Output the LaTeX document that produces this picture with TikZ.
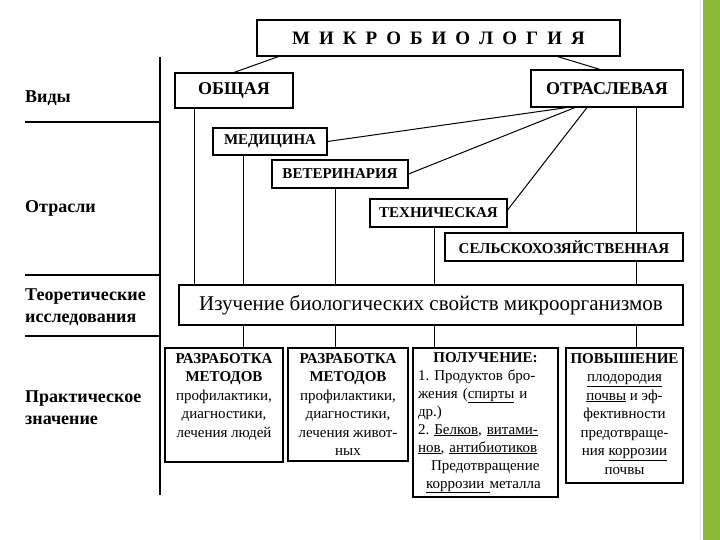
\documentclass[tikz,border=0pt]{standalone}
\usepackage{fontspec}
\setmainfont{Liberation Serif}
\definecolor{barGreen}{RGB}{141,187,57}
\newcommand\fsz[2]{\fontsize{#1}{#2}\selectfont}
\newcommand\lsp{\hspace{9pt}}
\frenchspacing
\begin{document}
\begin{tikzpicture}[x=1pt,y=-1pt,
  box/.style={draw, line width=1.1pt, fill=white, inner sep=0pt, anchor=center},
  lbl/.style={anchor=west, align=left, inner sep=0pt, font=\fsz{18}{22}\bfseries},
  conn/.style={line width=1pt},
  rule/.style={line width=1.1pt},
  btxt/.style={anchor=north, inner sep=0pt, align=center, font=\fsz{15}{18.5}\frenchspacing}]
\path[use as bounding box] (0,0) rectangle (720,540);
\fill[barGreen] (703,0) rectangle (720,540);
\draw[black!12, line width=0.6pt] (700,0) -- (700,540);

% left column
\coordinate (lt) at (160,57);
\coordinate (lb) at (160,495);
\coordinate (h1) at (25,122);
\coordinate (h2) at (25,275);
\coordinate (h3) at (25,336);
\draw[rule] (lt) -- (lb);
\draw[rule] (h1) -- (h1 -| lt);
\draw[rule] (h2) -- (h2 -| lt);
\draw[rule] (h3) -- (h3 -| lt);
\node[lbl] (l1) at (25,98) {Виды};
\node[lbl] (l2) at (25,208) {Отрасли};
\node[lbl] (l3) at (25,307) {Теоретические\\исследования};
\node[lbl] (l4) at (25,408) {Практическое\\значение};

% boxes
\node[box, minimum width=363pt, minimum height=36pt, font=\fsz{19}{22}\bfseries] (title) at (438.5,38)
  {М\lsp И\lsp К\lsp Р\lsp О\lsp Б\lsp И\lsp О\lsp Л\lsp О\lsp Г\lsp И\lsp Я};
\node[box, minimum width=118pt, minimum height=35pt, font=\fsz{18}{22}\bfseries] (obsh) at (234,90.5) {ОБЩАЯ};
\node[box, minimum width=152pt, minimum height=37pt, font=\fsz{18}{22}\bfseries] (otr) at (607,88.5) {ОТРАСЛЕВАЯ};
\node[box, minimum width=114pt, minimum height=27pt, font=\fsz{15}{18}\bfseries] (med) at (270,141.5) {МЕДИЦИНА};
\node[box, minimum width=136pt, minimum height=28pt, font=\fsz{15}{18}\bfseries] (vet) at (340,174) {ВЕТЕРИНАРИЯ};
\node[box, minimum width=137pt, minimum height=28pt, font=\fsz{15}{18}\bfseries] (tech) at (438.5,213) {ТЕХНИЧЕСКАЯ};
\node[box, minimum width=238pt, minimum height=28pt, font=\fsz{15}{18}\bfseries] (selh) at (564,247) {СЕЛЬСКОХОЗЯЙСТВЕННАЯ};
\node[box, minimum width=504pt, minimum height=40pt, font=\fsz{21}{24}] (izuch) at (431,305) {Изучение биологических свойств микроорганизмов};

\node[box, minimum width=118pt, minimum height=114pt] (b1) at (224,405) {};
\node[box, minimum width=120pt, minimum height=113pt] (b2) at (348,404.5) {};
\node[box, minimum width=145pt, minimum height=149pt] (b3) at (485.5,422.5) {};
\node[box, minimum width=117pt, minimum height=135pt] (b4) at (624.5,415.5) {};

\node[btxt] (b1t) at ([yshift=-5.5pt]b1.north) {\textbf{РАЗРАБОТКА}\\\textbf{МЕТОДОВ}\\профилактики,\\диагностики,\\лечения людей};
\node[btxt] (b2t) at ([yshift=-5.5pt]b2.north) {\textbf{РАЗРАБОТКА}\\\textbf{МЕТОДОВ}\\профилактики,\\диагностики,\\лечения живот-\\ных};
\node[btxt, align=left, text width=135pt, font=\fsz{15}{18}\frenchspacing] (b3t) at ([yshift=-4.5pt]b3.north)
  {\makebox[135pt][c]{\bfseries ПОЛУЧЕНИЕ:}\\
   1. Продуктов бро-\\
   жения (\underline{спирты} и\\
   др.)\\
   2. \underline{Белков}, \underline{витами-}\\
   \underline{нов}, \underline{антибиотиков}\\
   \hspace*{13pt}Предотвращение\\
   \hspace*{8pt}\underline{коррозии\ }металла};
\node[btxt] (b4t) at ([yshift=-5.5pt]b4.north) {\textbf{ПОВЫШЕНИЕ}\\\underline{плодородия}\\\underline{почвы} и эф-\\фективности\\предотвраще-\\ния \underline{коррозии}\\почвы};

% vertical guide coordinates
\coordinate (v1) at (194,0);
\coordinate (v2) at (243,0);
\coordinate (v3) at (335,0);
\coordinate (v4) at (434,0);
\coordinate (v5) at (636,0);

% connectors
\draw[conn] ([xshift=22pt]title.south west) -- (obsh.north);
\draw[conn] ([xshift=-63pt]title.south east) -- ([xshift=-7pt]otr.north);
\draw[conn] ([xshift=-40pt]otr.south) -- (med.east);
\draw[conn] ([xshift=-32pt]otr.south) -- (vet.east);
\draw[conn] ([xshift=-20pt]otr.south) -- ([yshift=3pt]tech.east);
\draw[conn] (obsh.south -| v1) -- (izuch.north -| v1);
\draw[conn] (med.south -| v2) -- (izuch.north -| v2);
\draw[conn] (vet.south -| v3) -- (izuch.north -| v3);
\draw[conn] (tech.south -| v4) -- (izuch.north -| v4);
\draw[conn] (otr.south -| v5) -- (selh.north -| v5);
\draw[conn] (selh.south -| v5) -- (izuch.north -| v5);
\draw[conn] (izuch.south -| v2) -- (b1.north -| v2);
\draw[conn] (izuch.south -| v3) -- (b2.north -| v3);
\draw[conn] (izuch.south -| v4) -- (b3.north -| v4);
\draw[conn] (izuch.south -| v5) -- (b4.north -| v5);
\end{tikzpicture}
\end{document}
